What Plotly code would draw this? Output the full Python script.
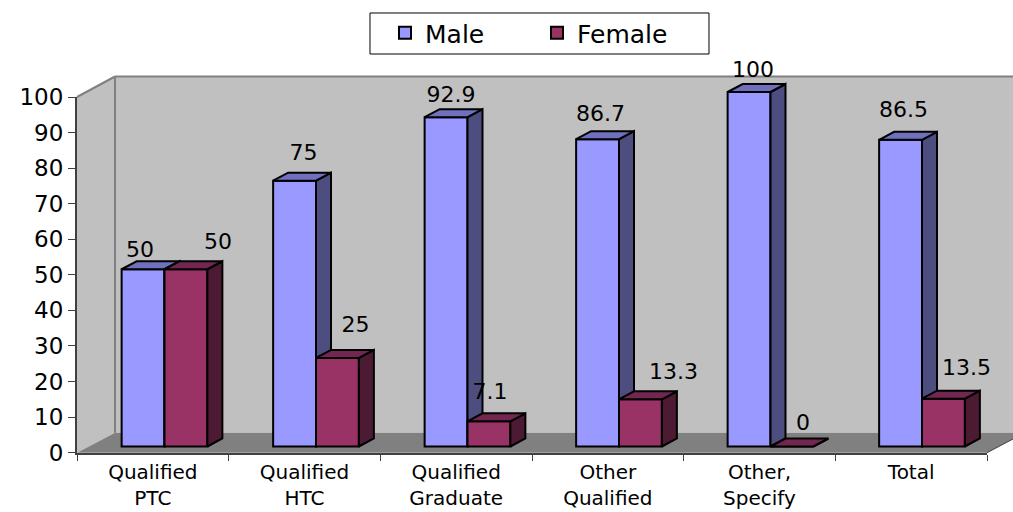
import plotly.graph_objects as go

categories = ["Qualified<br>PTC", "Qualified<br>HTC", "Qualified<br>Graduate",
              "Other<br>Qualified", "Other,<br>Specify", "Total"]
male = [50, 75, 92.9, 86.7, 100, 86.5]
female = [50, 25, 7.1, 13.3, 0, 13.5]
y_ticks = list(range(0, 101, 10))

# ---- layout constants (pixels of the 1013x512 page) ----
W, H = 1013, 512
FONT = "DejaVu Sans"
AX_L, AX_R, AX_B, AX_T = 77, 987, 452.7, 97
BACK_X, BACK_T, BACK_B = 115, 76.5, 432.7
BAR_X0, BAR_KX = 88.75, 151.5        # px of bar group 0 and px per category
BAR_Y0, BAR_KY = 446.5, 3.545        # px of value 0 and px per value unit
BAR_W = 0.283
DX_U, DY_V = 15 / BAR_KX, 8 / BAR_KY  # depth of the 3D extrusion in axis units

# label offsets relative to bar centre / top, in pixels (dx, dy upwards)
male_lab = [(-3, 18), (9, 26), (5, 21), (3, 24), (4, 21), (3, 28)]
fem_lab = [(32, 26), (18, 31), (1, 28), (33, 26), (11, 22), (23, 29)]

MALE_C = dict(front="#9999FF", side="#4D4D80", top="#7070BF")
FEM_C = dict(front="#993366", side="#4D1A33", top="#732650")


def px(x):
    return x / W


def py(y):
    return 1 - y / H


def path(points):
    return "M" + " L".join(f"{px(a):.5f},{py(b):.5f}" for a, b in points) + " Z"


def faces(values, offset):
    sx, sy, tx, ty = [], [], [], []
    for i, v in enumerate(values):
        l = i + 0.5 + offset
        r = l + BAR_W
        sx += [r, r + DX_U, r + DX_U, r, r, None]
        sy += [0, DY_V, v + DY_V, v, 0, None]
        tx += [l, l + DX_U, r + DX_U, r, l, None]
        ty += [v, v + DY_V, v + DY_V, v, v, None]
    return sx, sy, tx, ty


def add_series(fig, name, values, offset, colors, n):
    xa, ya = f"x{n}", f"y{n}"
    fig.add_trace(go.Bar(
        x=[i + 0.5 for i in range(len(values))], y=values, name=name,
        offset=offset, width=BAR_W, marker=dict(color=colors["front"], line=dict(color="black", width=2)),
        xaxis=xa, yaxis=ya, hoverinfo="skip", cliponaxis=False))
    sx, sy, tx, ty = faces(values, offset)
    for fx, fy, c in ((sx, sy, colors["side"]), (tx, ty, colors["top"])):
        fig.add_trace(go.Scatter(
            x=fx, y=fy, mode="lines", fill="toself", fillcolor=c,
            line=dict(color="black", width=2), showlegend=False,
            xaxis=xa, yaxis=ya, hoverinfo="skip", cliponaxis=False))


def label_trace(values, offset, offsets):
    xs = [i + 0.5 + offset + BAR_W / 2 + d[0] / BAR_KX for i, d in enumerate(offsets)]
    ys = [v + d[1] / BAR_KY for v, d in zip(values, offsets)]
    return go.Scatter(
        x=xs, y=ys, mode="text", text=[str(v) for v in values], textposition="middle center",
        textfont=dict(family=FONT, size=22, color="black"), showlegend=False,
        xaxis="x3", yaxis="y3", hoverinfo="skip", cliponaxis=False)


fig = go.Figure()
# invisible carrier for the visible axes
fig.add_trace(go.Scatter(x=[0, 6], y=[0, 100], mode="none", showlegend=False, hoverinfo="skip"))
add_series(fig, "Male", male, -BAR_W, MALE_C, 2)
add_series(fig, "Female", female, 0, FEM_C, 3)
fig.add_trace(label_trace(male, -BAR_W, male_lab))
fig.add_trace(label_trace(female, 0, fem_lab))

wall = "#C0C0C0"
edge = "#808080"
shapes = [
    dict(type="path", path=path([(BACK_X, BACK_T), (W, BACK_T), (W, BACK_B), (BACK_X, BACK_B)]),
         fillcolor=wall, line=dict(width=0)),
    dict(type="path", path=path([(AX_L, AX_T), (BACK_X, BACK_T), (BACK_X, BACK_B), (AX_L, AX_B)]),
         fillcolor=wall, line=dict(width=0)),
    dict(type="path", path=path([(AX_L, AX_B), (BACK_X, BACK_B), (W, BACK_B), (W, 439), (AX_R, AX_B)]),
         fillcolor=edge, line=dict(width=0)),
    dict(type="line", x0=px(AX_L), y0=py(AX_T), x1=px(BACK_X), y1=py(BACK_T), line=dict(color=edge, width=2)),
    dict(type="line", x0=px(BACK_X), y0=py(BACK_T), x1=px(W), y1=py(BACK_T), line=dict(color=edge, width=2)),
    dict(type="line", x0=px(BACK_X), y0=py(BACK_T), x1=px(BACK_X), y1=py(BACK_B), line=dict(color=edge, width=2)),
    dict(type="line", x0=px(AX_R), y0=py(AX_B), x1=px(W), y1=py(439), line=dict(color="#404040", width=1)),
    dict(type="path", path=path([(370, 13), (709, 13), (709, 54), (370, 54)]),
         fillcolor="white", line=dict(color="black", width=1)),
]
for s in shapes:
    s.update(xref="paper", yref="paper", layer="below")

dom_x = [px(AX_L), px(AX_R)]
dom_y = [py(AX_B), py(AX_T)]
# hidden full-page axes that carry the 3D bars, so nothing is clipped at the value axis top
range_x = [-BAR_X0 / BAR_KX, (W - BAR_X0) / BAR_KX]
range_y = [(BAR_Y0 - H) / BAR_KY, BAR_Y0 / BAR_KY]

fig.update_layout(
    width=W, height=H, margin=dict(l=0, r=0, t=0, b=0, autoexpand=False), autosize=False,
    paper_bgcolor="white", plot_bgcolor="rgba(0,0,0,0)",
    barmode="overlay", shapes=shapes, hovermode=False,
    font=dict(family=FONT, color="black"),
    xaxis=dict(domain=dom_x, range=[0, 6], showgrid=False, zeroline=False,
               tickmode="array", tickvals=[i + 0.5 for i in range(6)], ticktext=categories,
               ticks="", ticklabelstandoff=0, tickfont=dict(family=FONT, size=20),
               showline=True, linecolor="#404040", linewidth=2,
               minor=dict(tickmode="array", tickvals=list(range(7)), ticks="outside", ticklen=6,
                          tickcolor="#404040", tickwidth=1, showgrid=False)),
    yaxis=dict(domain=dom_y, range=[0, 100], tickmode="array", tickvals=y_ticks,
               showgrid=False, zeroline=False, ticks="outside", ticklen=7, tickcolor="#404040",
               tickfont=dict(family=FONT, size=23), showline=True, linecolor="#404040", linewidth=2),
    xaxis2=dict(domain=[0, 1], range=range_x, visible=False, anchor="y2"),
    yaxis2=dict(domain=[0, 1], range=range_y, visible=False, anchor="x2"),
    xaxis3=dict(range=range_x, visible=False, overlaying="x2", anchor="y3"),
    yaxis3=dict(range=range_y, visible=False, overlaying="y2", anchor="x3"),
    legend=dict(orientation="h", x=385 / W, xanchor="left", y=py(10), yanchor="top",
                bgcolor="rgba(0,0,0,0)", borderwidth=0,
                font=dict(family=FONT, size=25), entrywidth=107, entrywidthmode="pixels",
                itemclick=False, itemdoubleclick=False),
)

fig.write_html("out.html", config=dict(displayModeBar=False),
               post_script="document.body.style.margin='0';")
